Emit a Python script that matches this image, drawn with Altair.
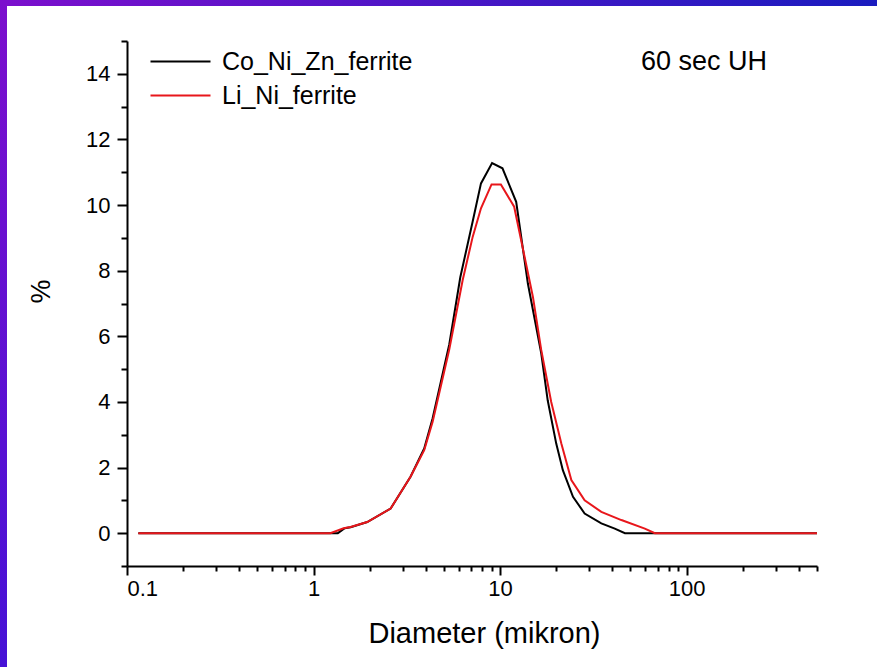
import altair as alt
import pandas as pd

FONT = "Liberation Sans"

series_names = ["Co_Ni_Zn_ferrite", "Li_Ni_ferrite"]
series_colors = ["#000000", "#e8161b"]

co_x = [0.115, 1.35, 1.47, 1.58, 1.94, 2.59, 3.31, 3.92, 4.35, 5.34, 6.12, 7.13, 7.9, 9.06,
        10.3, 12.2, 14.1, 16.6, 18.0, 20.0, 21.7, 24.6, 28.4, 34.9, 41.2, 46.7, 500]
co_y = [0, 0, 0.15, 0.18, 0.34, 0.75, 1.72, 2.58, 3.5, 5.75, 7.8, 9.5, 10.66, 11.28,
        11.12, 10.1, 7.6, 5.5, 4.05, 2.73, 1.92, 1.11, 0.6, 0.3, 0.14, 0, 0]

li_x = [0.115, 1.23, 1.45, 1.58, 1.94, 2.59, 3.31, 3.92, 4.35, 5.34, 6.3, 7.13, 7.9, 9.0,
        10.1, 11.9, 15.0, 16.6, 18.8, 21.3, 24.1, 28.4, 34.9, 44.7, 59.7, 67.6, 500]
li_y = [0, 0, 0.15, 0.19, 0.34, 0.75, 1.72, 2.53, 3.4, 5.6, 7.71, 9.03, 9.9, 10.63,
        10.63, 9.95, 7.2, 5.6, 4.0, 2.73, 1.62, 1.0, 0.65, 0.4, 0.14, 0, 0]

x_major = [0.1, 1, 10, 100]
x_minor = [0.2, 0.3, 0.4, 0.5, 0.6, 0.7, 0.8, 0.9,
           2, 3, 4, 5, 6, 7, 8, 9,
           20, 30, 40, 50, 60, 70, 80, 90,
           200, 300, 400, 500]
y_major = [0, 2, 4, 6, 8, 10, 12, 14]
y_minor = [-1, 1, 3, 5, 7, 9, 11, 13, 15]

annotation = "60 sec UH"

co = pd.DataFrame({"x": co_x, "y": co_y, "series": series_names[0]})
li = pd.DataFrame({"x": li_x, "y": li_y, "series": series_names[1]})

xscale = alt.Scale(type="log", domain=[0.1, 500], nice=False)
yscale = alt.Scale(domain=[-1, 15], nice=False, zero=False)
cscale = alt.Scale(domain=series_names, range=series_colors)

legend = alt.Legend(
    title=None, orient="none", legendX=41, legendY=8,
    symbolType="M-4,0H4", symbolSize=225, symbolStrokeWidth=2,
    labelFont=FONT, labelFontSize=25, labelColor="black", labelLimit=500,
    labelOffset=29, rowPadding=8,
)

x_axis = alt.Axis(
    values=x_major, format="~g", tickSize=9, tickWidth=2, tickColor="black",
    domainColor="black", domainWidth=2, grid=False,
    labelFont=FONT, labelFontSize=22, labelColor="black", labelPadding=3,
    title="Diameter (mikron)", titleFont=FONT, titleFontSize=29, titleFontWeight="normal",
    titleColor="black", titleX=357, titleY=67, titleBaseline="middle", titleAlign="center",
    orient="bottom",
)
y_axis = alt.Axis(
    values=y_major, tickSize=10, tickWidth=2, tickColor="black",
    domainColor="black", domainWidth=2, grid=False,
    labelFont=FONT, labelFontSize=22, labelColor="black", labelPadding=7,
    title="%", titleFont=FONT, titleFontSize=27, titleFontWeight="normal",
    titleColor="black", titleX=-86, titleY=250, titleBaseline="middle", titleAlign="center",
    orient="left",
)
x_axis_minor = alt.Axis(
    values=x_minor, labels=False, tickSize=5, tickWidth=2, tickColor="black",
    domain=False, grid=False, title=None, orient="bottom",
)
y_axis_minor = alt.Axis(
    values=y_minor, labels=False, tickSize=6, tickWidth=2, tickColor="black",
    domain=False, grid=False, title=None, orient="left",
)

line_co = alt.Chart(co).mark_line(strokeWidth=2).encode(
    x=alt.X("x:Q", scale=xscale, axis=x_axis),
    y=alt.Y("y:Q", scale=yscale, axis=y_axis),
    color=alt.Color("series:N", scale=cscale, legend=legend),
)
line_li = alt.Chart(li).mark_line(strokeWidth=2).encode(
    x=alt.X("x:Q", scale=xscale, axis=None),
    y=alt.Y("y:Q", scale=yscale, axis=None),
    color=alt.Color("series:N", scale=cscale, legend=legend),
)
minor = alt.Chart(co).mark_line(opacity=0).encode(
    x=alt.X("x:Q", scale=xscale, axis=x_axis_minor),
    y=alt.Y("y:Q", scale=yscale, axis=y_axis_minor),
)

one = pd.DataFrame({"label": [annotation]})
note = alt.Chart(one).mark_text(
    font=FONT, fontSize=27, color="black", align="left", baseline="middle"
).encode(text="label:N", x=alt.value(514), y=alt.value(21))

top_grad = alt.Gradient(
    gradient="linear", x1=0, y1=0, x2=1, y2=0,
    stops=[alt.GradientStop(color="#7c0fcd", offset=0),
           alt.GradientStop(color="#1a1cbf", offset=1)],
)
left_grad = alt.Gradient(
    gradient="linear", x1=0, y1=0, x2=0, y2=1,
    stops=[alt.GradientStop(color="#7c0fcd", offset=0),
           alt.GradientStop(color="#4612d6", offset=1)],
)
frame_top = alt.Chart(one).mark_rect(color=top_grad).encode(
    x=alt.value(-127), x2=alt.value(750), y=alt.value(-41), y2=alt.value(-35)
)
frame_left = alt.Chart(one).mark_rect(color=left_grad).encode(
    x=alt.value(-127), x2=alt.value(-120), y=alt.value(-41), y2=alt.value(626)
)

chart = alt.layer(frame_top, frame_left, line_co, line_li, minor, note).resolve_axis(
    x="independent", y="independent"
).properties(
    width=690, height=525,
    padding={"left": 127, "top": 41, "right": 60, "bottom": 101},
    autosize=alt.AutoSizeParams(type="none"),
    background="white",
).configure_view(stroke=None)

chart.save("out.html", embed_options={"renderer": "svg", "actions": False})
